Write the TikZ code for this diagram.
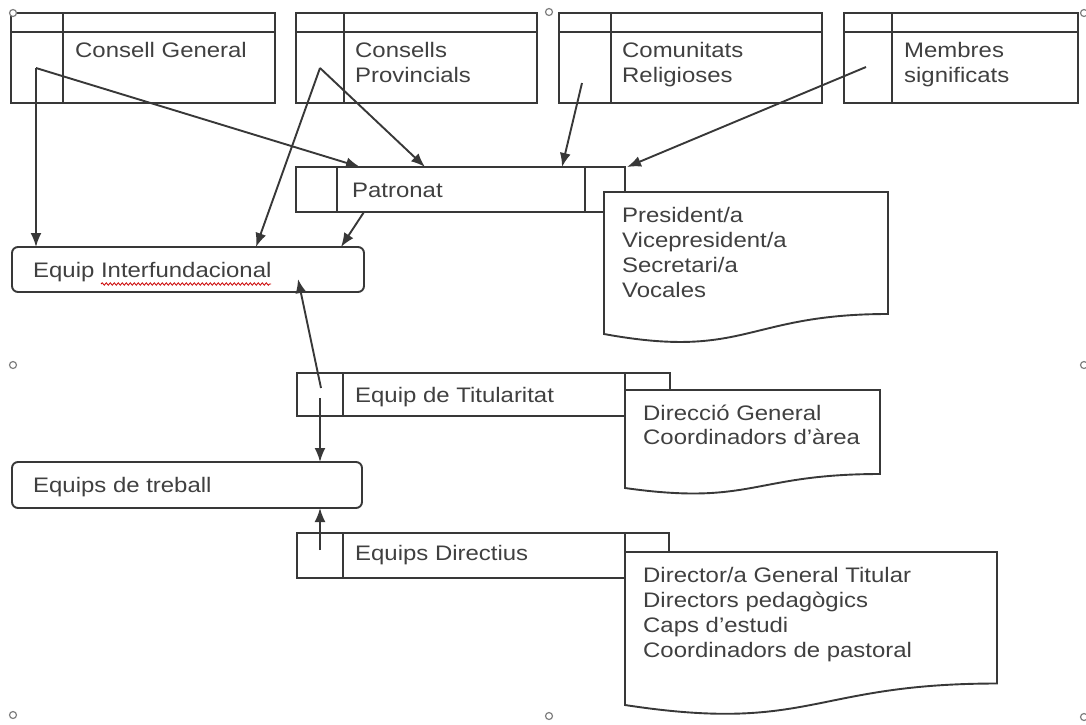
\documentclass[tikz,border=0pt]{standalone}
\usepackage{fontspec}
\setmainfont{Liberation Sans}[FakeStretch=1.14]
\usetikzlibrary{arrows.meta,decorations.pathmorphing}
\definecolor{lncol}{HTML}{383838}
\definecolor{txcol}{HTML}{404040}
\begin{document}
\begin{tikzpicture}[x=1pt,y=-1pt,
  lnst/.style={draw=lncol, line width=1.9pt},
  boxn/.style={lnst, fill=white, rectangle, inner sep=0pt, outer sep=0pt},
  rboxn/.style={boxn, rounded corners=6pt},
  txt/.style={anchor=base west, inner sep=0pt, text=txcol, font=\fontsize{21}{25}\selectfont},
  arr/.style={draw=lncol, line width=1.9pt, -{Latex[length=14pt,width=11pt]}},
  handle/.style={draw=gray, line width=1.2pt, circle, inner sep=0pt, minimum size=7pt, fill=white},
  docst/.style={lnst, fill=white}]
\useasboundingbox (0,0) rectangle (1086,724);

% ---------- top boxes ----------
\node[boxn, minimum width=264pt, minimum height=90pt] (cg) at (143,58) {};
\node[boxn, minimum width=241pt, minimum height=90pt] (cp) at (416.5,58) {};
\node[boxn, minimum width=263pt, minimum height=90pt] (cr) at (690.5,58) {};
\node[boxn, minimum width=234pt, minimum height=90pt] (ms) at (961,58) {};
\draw[lnst] (11,32) -- (275,32) (63,13) -- (63,103);
\draw[lnst] (296,32) -- (537,32) (344,13) -- (344,103);
\draw[lnst] (559,32) -- (822,32) (611,13) -- (611,103);
\draw[lnst] (844,32) -- (1078,32) (892,13) -- (892,103);

\node[txt] (cgt) at (75,57) {Consell General};
\node[txt] (cpt1) at (355,57) {Consells};
\node[txt] (cpt2) at (355,82) {Provincials};
\node[txt] (crt1) at (622,57) {Comunitats};
\node[txt] (crt2) at (622,82) {Religioses};
\node[txt] (mst1) at (904,57) {Membres};
\node[txt] (mst2) at (904,82) {significats};

% ---------- Patronat ----------
\node[boxn, minimum width=329pt, minimum height=45pt] (pat) at (460.5,189.5) {};
\draw[lnst] (337,167) -- (337,212) (585,167) -- (585,212);
\path[docst] (604,192) -- (888,192) -- (888,314)
  .. controls (746,314) and (746,360) .. (604,334) -- cycle;
\node[txt] (patt) at (352,197) {Patronat};
\node[txt] (pd1) at (622,222) {President/a};
\node[txt] (pd2) at (622,247) {Vicepresident/a};
\node[txt] (pd3) at (622,272) {Secretari/a};
\node[txt] (pd4) at (622,297) {Vocales};

% ---------- Equip Interfundacional ----------
\node[rboxn, minimum width=352pt, minimum height=45pt] (inf) at (188,269.5) {};
\node[txt] (inft) at (33,277) {Equip Interfundacional};
\draw[red!80!black, line width=0.8pt, decorate, decoration={snake, amplitude=1.2pt, segment length=4pt}] (101,284) -- (271,284);

% ---------- Equip de Titularitat ----------
\node[boxn, minimum width=373pt, minimum height=43pt] (tit) at (483.5,394.5) {};
\draw[lnst] (343,373) -- (343,416) (625,373) -- (625,416);
\path[docst] (625,390) -- (880,390) -- (880,474)
  .. controls (752.5,474) and (752.5,506) .. (625,488) -- cycle;
\node[txt] (titt) at (355,402) {Equip de Titularitat};
\node[txt] (td1) at (643,420) {Direcció General};
\node[txt] (td2) at (643,444) {Coordinadors d'àrea};

% ---------- Equips de treball ----------
\node[rboxn, minimum width=350pt, minimum height=46pt] (tre) at (187,485) {};
\node[txt] (tret) at (33,492) {Equips de treball};

% ---------- Equips Directius ----------
\node[boxn, minimum width=372pt, minimum height=45pt] (dir) at (483,555.5) {};
\draw[lnst] (343,533) -- (343,578) (625,533) -- (625,578);
\path[docst] (625,552) -- (997,552) -- (997,683.5)
  .. controls (811,683.5) and (811,733.5) .. (625,705) -- cycle;
\node[txt] (dirt) at (355,560) {Equips Directius};
\node[txt] (dd1) at (643,582) {Director/a General Titular};
\node[txt] (dd2) at (643,607) {Directors pedagògics};
\node[txt] (dd3) at (643,632) {Caps d'estudi};
\node[txt] (dd4) at (643,657) {Coordinadors de pastoral};

% ---------- connector points ----------
\coordinate (cgA) at (36,68);
\coordinate (cpA) at (320,68);
\coordinate (crA) at (582,83);
\coordinate (msA) at (866,67);
\coordinate (infT1) at (36,247);
\coordinate (infT2) at (256,247);
\coordinate (infT3) at (341,247);
\coordinate (infIn) at (298,279);
\coordinate (patT1) at (360,167);
\coordinate (patT2) at (425,167);
\coordinate (patT3) at (562,167);
\coordinate (patT4) at (627,167);
\coordinate (patB) at (364,212);
\coordinate (titA) at (321,388);
\coordinate (titB) at (320,398);
\coordinate (treT) at (320,462);
\coordinate (treB) at (320,508);
\coordinate (dirA) at (320,550);

% ---------- connectors ----------
\draw[arr] (cgA) -- (infT1);
\draw[arr] (cgA) -- (patT1);
\draw[arr] (cpA) -- (infT2);
\draw[arr] (cpA) -- (patT2);
\draw[arr] (crA) -- (patT3);
\draw[arr] (msA) -- (patT4);
\draw[arr] (patB) -- (infT3);
\draw[arr] (titA) -- (infIn);
\draw[arr] (titB) -- (treT);
\draw[arr] (dirA) -- (treB);

% ---------- selection handles ----------
\node[handle] (h1) at (13,13) {};
\node[handle] (h2) at (549,12) {};
\node[handle] (h3) at (1084,13) {};
\node[handle] (h4) at (13,365) {};
\node[handle] (h5) at (1084,365) {};
\node[handle] (h6) at (13,715) {};
\node[handle] (h7) at (549,716) {};
\node[handle] (h8) at (1084,717) {};
\end{tikzpicture}
\end{document}
